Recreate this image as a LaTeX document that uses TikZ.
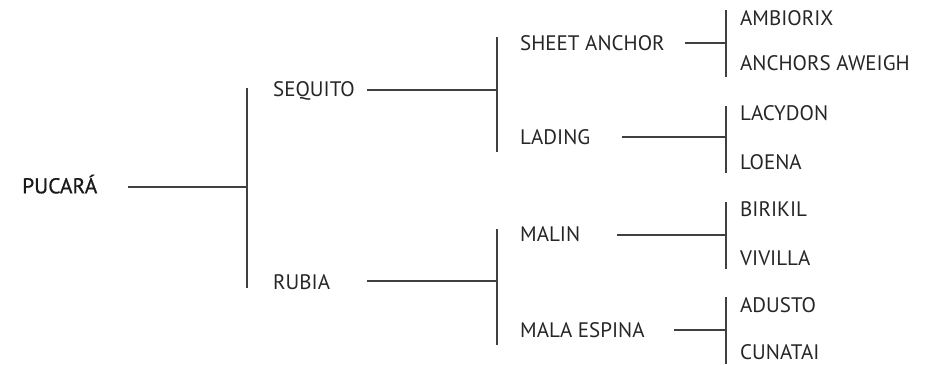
\documentclass[tikz,border=0pt]{standalone}
\usepackage{fontspec}
\setmainfont{PT Sans}
\newfontfamily\semibfont[FakeBold=0.7]{PT Sans}
\begin{document}
\begin{tikzpicture}[x=1pt,y=-1pt,
  lbl/.style={anchor=west,inner sep=0pt,font=\fontsize{21}{24}\selectfont,text=black!85,text height=14.7pt,text depth=0pt},
  root/.style={lbl,font=\semibfont\fontsize{21.5}{24}\selectfont,text=black!90},
  conn/.style={draw=black!75,line width=1.1pt}]
\useasboundingbox (0,0) rectangle (941,364);
% names
\node[root] (pucara) at (22,186) {PUCARÁ};
\node[lbl] (sequito) at (273,89) {SEQUITO};
\node[lbl] (rubia) at (273,282) {RUBIA};
\node[lbl] (sheet) at (520,43) {SHEET ANCHOR};
\node[lbl] (lading) at (520,137) {LADING};
\node[lbl] (malin) at (520,234) {MALIN};
\node[lbl] (mala) at (520,330) {MALA ESPINA};
\node[lbl] (ambiorix) at (740,18) {AMBIORIX};
\node[lbl] (anchors) at (740,63) {ANCHORS AWEIGH};
\node[lbl] (lacydon) at (740,113) {LACYDON};
\node[lbl] (loena) at (740,162) {LOENA};
\node[lbl] (birikil) at (740,209) {BIRIKIL};
\node[lbl] (vivilla) at (740,258) {VIVILLA};
\node[lbl] (adusto) at (740,305) {ADUSTO};
\node[lbl] (cunatai) at (740,352) {CUNATAI};
% connector points
\coordinate (p0) at (128,187); \coordinate (p1) at (247,187);
\coordinate (p1t) at (247,88); \coordinate (p1b) at (247,288);
\coordinate (s0) at (367,90); \coordinate (s1) at (497,90);
\coordinate (s1t) at (497,37); \coordinate (s1b) at (497,152);
\coordinate (r0) at (367,281); \coordinate (r1) at (497,281);
\coordinate (r1t) at (497,229); \coordinate (r1b) at (497,345);
\coordinate (a0) at (685,43); \coordinate (a1) at (726,43);
\coordinate (a1t) at (726,10); \coordinate (a1b) at (726,77);
\coordinate (l0) at (622,137); \coordinate (l1) at (726,137);
\coordinate (l1t) at (726,106); \coordinate (l1b) at (726,173);
\coordinate (m0) at (617,235); \coordinate (m1) at (726,235);
\coordinate (m1t) at (726,202); \coordinate (m1b) at (726,269);
\coordinate (e0) at (674,330); \coordinate (e1) at (726,330);
\coordinate (e1t) at (726,297); \coordinate (e1b) at (726,364);
% connectors
\draw[conn] (p0) -- (p1); \draw[conn] (p1t) -- (p1b);
\draw[conn] (s0) -- (s1); \draw[conn] (s1t) -- (s1b);
\draw[conn] (r0) -- (r1); \draw[conn] (r1t) -- (r1b);
\draw[conn] (a0) -- (a1); \draw[conn] (a1t) -- (a1b);
\draw[conn] (l0) -- (l1); \draw[conn] (l1t) -- (l1b);
\draw[conn] (m0) -- (m1); \draw[conn] (m1t) -- (m1b);
\draw[conn] (e0) -- (e1); \draw[conn] (e1t) -- (e1b);
\end{tikzpicture}
\end{document}
